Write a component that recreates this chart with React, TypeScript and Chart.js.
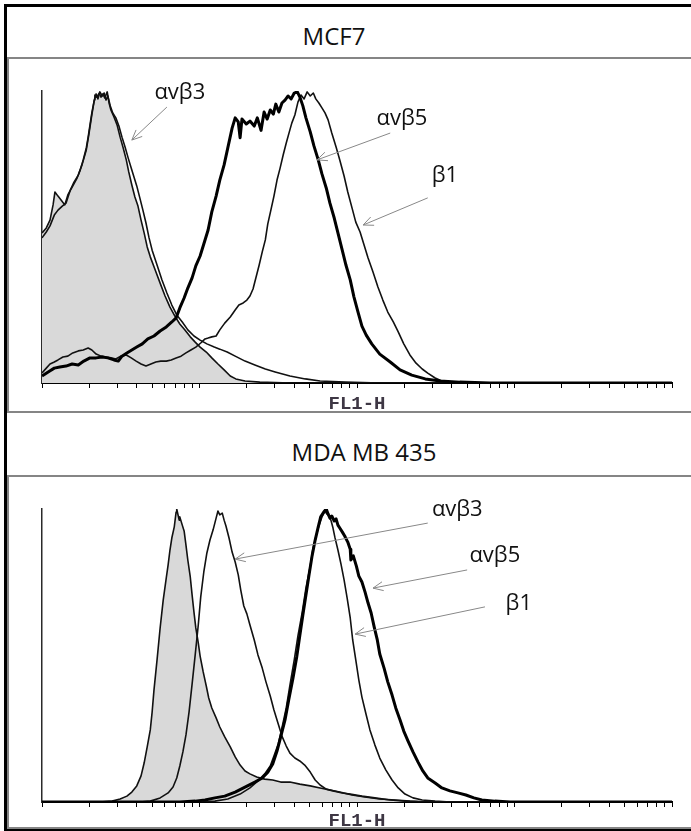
import React, { useEffect, useRef } from "react";
import { Chart, registerables } from "chart.js";

Chart.register(...registerables);

// FL1-H is recorded on 1024 channels spanning four log decades (10^0 .. 10^4)
const CHANNELS = 1024;
const DECADES = 4;
const COUNT_MAX = 100;
const fl1TickValues = [
  1, 2, 3, 4, 5, 6, 7, 8, 9,
  10, 20, 30, 40, 50, 60, 70, 80, 90,
  100, 200, 300, 400, 500, 600, 700, 800, 900,
  1000, 2000, 3000, 4000, 5000, 6000, 7000, 8000, 9000, 10000,
];
const toChannel = (v: number) => (CHANNELS * Math.log10(v)) / DECADES;

// ---- MCF7 histograms (channel, relative count) ----
const mcf7ControlCh = [0, 7, 13, 18, 21, 26, 31, 37, 42, 49, 57, 62, 67, 72, 75, 78, 81, 85, 86, 89, 93, 96, 99, 102, 106, 109, 112, 117, 122, 127, 132, 137, 141, 146, 151, 156, 161, 166, 171, 176, 184, 192, 200, 208, 216, 224, 232, 241, 249, 257, 267, 276, 286, 296, 306, 315, 330, 354, 403, 1024];
const mcf7ControlCount = [51.4, 53.1, 55.8, 61.0, 65.4, 64.0, 62.7, 61.0, 64.4, 67.1, 70.2, 72.9, 76.4, 80.5, 84.2, 88.4, 92.5, 96.9, 98.6, 97.9, 99.3, 97.9, 99.0, 97.6, 99.7, 95.9, 93.5, 91.1, 88.4, 84.2, 80.5, 76.4, 72.3, 67.8, 63.7, 60.6, 55.8, 51.4, 46.6, 43.2, 38.7, 34.2, 29.8, 26.0, 22.9, 20.2, 18.2, 15.8, 14.0, 12.3, 10.6, 8.6, 6.5, 4.5, 2.4, 1.4, 0.7, 0.3, 0, 0];

const mcf7AvB3Ch = [0, 7, 13, 20, 26, 33, 39, 46, 52, 59, 65, 72, 76, 81, 85, 88, 91, 94, 98, 101, 104, 107, 111, 115, 120, 125, 130, 135, 140, 145, 150, 154, 159, 164, 169, 174, 179, 187, 195, 203, 211, 219, 228, 237, 247, 257, 268, 280, 289, 301, 314, 330, 346, 363, 379, 403, 428, 452, 493, 549, 1024];
const mcf7AvB3Count = [49.7, 51.7, 53.8, 57.5, 59.2, 60.6, 61.6, 66.1, 68.8, 71.2, 74.7, 79.8, 84.9, 91.8, 96.9, 99.0, 97.3, 99.7, 98.3, 99.3, 96.9, 98.3, 94.9, 92.5, 90.8, 88.0, 84.2, 80.8, 77.1, 73.6, 70.2, 67.5, 63.4, 59.2, 54.8, 49.7, 45.5, 40.4, 35.3, 30.8, 26.7, 23.3, 20.9, 18.2, 16.1, 14.7, 13.4, 12.3, 11.6, 10.6, 9.2, 7.5, 6.2, 4.8, 3.8, 2.4, 1.4, 0.7, 0.3, 0, 0];

const mcf7AvB5Ch = [0, 10, 20, 29, 39, 49, 59, 68, 78, 88, 98, 107, 117, 124, 130, 138, 146, 154, 163, 172, 182, 192, 202, 211, 218, 224, 231, 237, 244, 250, 257, 263, 270, 276, 283, 289, 296, 302, 309, 314, 319, 322, 325, 332, 338, 345, 350, 356, 361, 366, 371, 376, 380, 385, 390, 395, 400, 405, 410, 415, 419, 424, 429, 436, 442, 449, 455, 462, 468, 475, 481, 488, 494, 501, 507, 514, 520, 527, 536, 549, 566, 582, 601, 623, 647, 679, 728, 1024];
const mcf7AvB5Count = [2.4, 3.8, 5.1, 5.5, 5.8, 6.5, 6.2, 7.5, 8.6, 8.6, 8.9, 8.6, 7.9, 7.5, 9.2, 10.3, 11.3, 12.3, 13.4, 15.1, 16.1, 17.8, 19.2, 20.9, 22.3, 25.7, 29.1, 32.5, 36.0, 40.1, 43.5, 47.6, 52.4, 58.6, 64.0, 69.5, 74.7, 80.5, 87.3, 90.8, 89.4, 84.0, 90.4, 88.7, 89.7, 88.0, 90.8, 86.5, 92.8, 90.4, 93.5, 92.1, 95.5, 92.8, 95.9, 96.9, 98.3, 97.3, 99.3, 99.7, 98.0, 94.9, 90.8, 86.0, 81.2, 76.4, 71.6, 66.8, 61.6, 56.5, 51.4, 45.5, 40.4, 35.3, 29.5, 24.0, 19.5, 16.4, 13.4, 9.9, 7.2, 4.5, 2.7, 1.4, 0.7, 0.3, 0, 0];

const mcf7B1Ch = [0, 7, 13, 20, 26, 34, 42, 50, 59, 67, 75, 81, 88, 96, 104, 112, 120, 128, 137, 145, 153, 161, 169, 177, 185, 193, 202, 210, 218, 226, 234, 242, 250, 258, 265, 270, 276, 283, 289, 297, 306, 314, 320, 327, 333, 338, 343, 348, 353, 358, 363, 367, 372, 377, 382, 387, 392, 397, 402, 406, 411, 416, 421, 426, 431, 436, 441, 445, 450, 455, 460, 465, 471, 478, 484, 491, 497, 504, 510, 517, 523, 530, 538, 546, 554, 562, 571, 579, 588, 598, 608, 618, 627, 639, 650, 671, 696, 1024];
const mcf7B1Count = [3.4, 5.1, 6.5, 7.2, 7.9, 8.9, 9.2, 10.3, 11.0, 11.3, 12.0, 11.3, 9.9, 9.2, 8.9, 8.6, 8.2, 9.2, 9.6, 8.6, 7.5, 6.5, 5.8, 6.5, 7.2, 7.5, 7.5, 7.9, 8.6, 9.2, 10.3, 11.3, 12.3, 13.7, 15.1, 15.4, 15.8, 16.1, 18.2, 20.5, 22.6, 25.0, 26.7, 27.4, 28.4, 29.8, 32.2, 36.3, 40.4, 44.9, 49.0, 54.5, 59.2, 64.0, 69.5, 73.6, 78.1, 82.2, 86.0, 89.0, 91.8, 96.2, 98.6, 97.3, 99.7, 98.3, 99.3, 97.3, 95.9, 94.2, 92.5, 90.1, 85.6, 80.8, 76.4, 70.9, 65.4, 59.9, 55.1, 51.7, 47.6, 42.8, 38.0, 32.9, 28.4, 24.3, 20.9, 17.5, 13.4, 9.6, 6.8, 4.8, 3.4, 1.7, 0.7, 0.3, 0, 0];

// ---- MDA MB 435 histograms ----
const mdaControlCh = [0, 94, 114, 127, 138, 146, 154, 161, 166, 171, 176, 179, 182, 187, 192, 197, 202, 205, 208, 211, 215, 218, 219, 223, 224, 228, 231, 234, 237, 241, 244, 247, 250, 254, 257, 262, 267, 271, 276, 283, 289, 297, 306, 314, 322, 330, 338, 349, 362, 375, 388, 403, 419, 436, 452, 468, 484, 504, 525, 549, 574, 598, 631, 1024];
const mdaControlCount = [0, 0, 0.3, 1.0, 2.0, 3.4, 5.5, 8.9, 13.3, 18.8, 24.6, 30.7, 38.2, 48.5, 59.4, 68.9, 76.5, 80.9, 86.0, 90.1, 93.9, 99.0, 100, 96.2, 97.3, 94.5, 92.5, 87.7, 82.6, 76.8, 70.6, 64.8, 59.4, 54.3, 49.8, 44.4, 39.6, 35.5, 32.1, 28.7, 25.6, 22.2, 18.8, 15.4, 12.6, 10.6, 9.6, 8.5, 7.8, 7.5, 6.8, 6.8, 6.1, 5.5, 4.8, 4.1, 3.4, 2.4, 1.7, 1.0, 0.7, 0.3, 0, 0];

const mdaAvB3Ch = [0, 159, 176, 192, 205, 213, 219, 224, 229, 234, 239, 244, 249, 254, 258, 263, 268, 273, 278, 283, 286, 289, 293, 296, 299, 304, 309, 314, 319, 323, 328, 333, 338, 345, 351, 358, 364, 371, 377, 384, 390, 397, 403, 411, 419, 427, 436, 444, 452, 462, 473, 488, 501, 520, 541, 566, 590, 623, 1024];
const mdaAvB3Count = [0, 0, 0.3, 1.4, 3.1, 5.1, 8.2, 12.3, 17.1, 22.9, 30.7, 40.3, 50.2, 60.4, 70.0, 78.5, 85.0, 89.4, 92.8, 96.9, 99.3, 98.0, 98.6, 96.2, 94.2, 90.1, 85.3, 81.9, 77.5, 72.4, 66.9, 64.2, 60.4, 55.3, 50.2, 45.7, 41.0, 36.2, 31.4, 26.6, 22.5, 19.1, 16.7, 15.0, 14.0, 12.6, 10.2, 7.5, 5.8, 4.4, 3.8, 3.1, 2.7, 2.0, 1.4, 0.7, 0.3, 0, 0];

const mdaAvB5Ch = [0, 224, 249, 265, 281, 297, 314, 330, 346, 358, 367, 375, 382, 388, 395, 401, 408, 414, 419, 424, 429, 434, 439, 444, 449, 453, 458, 462, 465, 468, 471, 475, 478, 481, 484, 488, 492, 497, 501, 502, 506, 511, 515, 520, 525, 530, 535, 540, 545, 549, 556, 562, 569, 575, 582, 588, 595, 603, 611, 619, 627, 639, 650, 663, 676, 689, 702, 715, 736, 761, 1024];
const mdaAvB5Count = [0, 0, 0.3, 0.7, 1.4, 2.0, 3.4, 5.1, 6.8, 8.2, 10.2, 13.0, 17.4, 22.2, 28.0, 34.8, 42.3, 49.5, 56.7, 63.8, 70.6, 77.5, 84.0, 89.4, 93.9, 97.3, 99.0, 100, 98.3, 96.9, 97.6, 95.9, 96.6, 94.5, 93.5, 92.2, 90.8, 88.7, 86.3, 82.6, 84.0, 80.5, 77.1, 75.1, 71.7, 67.9, 64.5, 59.7, 55.3, 50.5, 45.7, 41.0, 36.5, 32.1, 28.0, 24.2, 20.8, 17.1, 13.7, 10.6, 8.2, 6.5, 4.8, 3.8, 3.1, 2.4, 1.4, 0.7, 0.3, 0, 0];

const mdaB1Ch = [0, 257, 281, 302, 322, 338, 351, 362, 371, 377, 384, 390, 397, 403, 410, 416, 423, 429, 436, 440, 445, 450, 455, 460, 463, 467, 470, 473, 476, 481, 486, 491, 496, 501, 505, 510, 515, 520, 527, 533, 541, 549, 559, 569, 579, 590, 603, 618, 639, 663, 1024];
const mdaB1Count = [0, 0, 0.3, 1.0, 2.7, 4.8, 7.2, 9.6, 12.3, 15.7, 19.8, 25.3, 32.1, 39.9, 48.5, 56.7, 64.8, 73.0, 80.5, 86.0, 90.4, 94.2, 97.3, 99.3, 98.3, 97.6, 95.9, 93.5, 90.4, 86.0, 81.2, 75.8, 69.6, 62.8, 55.3, 48.5, 41.6, 35.8, 29.7, 24.6, 19.5, 15.0, 10.9, 7.5, 4.8, 2.7, 1.4, 0.7, 0.3, 0, 0];

type Series = {
  label: string;
  ch: number[];
  count: number[];
  width: number;
  color: string;
  fill?: string;
};

type Note = {
  text: string;
  at: [number, number];
  from: [number, number];
  to: [number, number];
};

const THIN = "#111111";
const THICK = "#000000";
const CONTROL_FILL = "#d9d9d9";

// Datasets listed top-most first: Chart.js paints index 0 last
const mcf7Series: Series[] = [
  { label: "αvβ5", ch: mcf7AvB5Ch, count: mcf7AvB5Count, width: 3, color: THICK },
  { label: "β1", ch: mcf7B1Ch, count: mcf7B1Count, width: 1.6, color: THIN },
  { label: "αvβ3", ch: mcf7AvB3Ch, count: mcf7AvB3Count, width: 1.6, color: THIN },
  { label: "control", ch: mcf7ControlCh, count: mcf7ControlCount, width: 1.6, color: THIN, fill: CONTROL_FILL },
];

const mdaSeries: Series[] = [
  { label: "αvβ5", ch: mdaAvB5Ch, count: mdaAvB5Count, width: 3, color: THICK },
  { label: "β1", ch: mdaB1Ch, count: mdaB1Count, width: 1.6, color: THIN },
  { label: "αvβ3", ch: mdaAvB3Ch, count: mdaAvB3Count, width: 1.6, color: THIN },
  { label: "control", ch: mdaControlCh, count: mdaControlCount, width: 1.6, color: THIN, fill: CONTROL_FILL },
];

// Callouts: label centre, arrow tail and arrow tip in (channel, count)
const mcf7Notes: Note[] = [
  { text: "αvβ3", at: [224, 99.3], from: [203, 94.5], to: [146, 83.2] },
  { text: "αvβ5", at: [585, 90.4], from: [566, 85.6], to: [447, 76.4] },
  { text: "β1", at: [655, 70.9], from: [627, 63.4], to: [522, 54.1] },
];

const mdaNotes: Note[] = [
  { text: "αvβ3", at: [675, 99.7], from: [627, 95.2], to: [314, 82.9] },
  { text: "αvβ5", at: [736, 84.0], from: [691, 79.2], to: [538, 73.0] },
  { text: "β1", at: [775, 67.6], from: [720, 66.6], to: [509, 57.3] },
];

const LABEL_FONT = "22px 'Open Sans', 'DejaVu Sans', sans-serif";

function notesPlugin(notes: Note[]) {
  return {
    id: "callouts",
    afterDatasetsDraw(chart: any) {
      const { ctx } = chart;
      const xs = chart.scales.x;
      const ys = chart.scales.y;
      ctx.save();
      ctx.strokeStyle = "#888888";
      ctx.lineWidth = 1;
      for (const n of notes) {
        const x0 = xs.getPixelForValue(n.from[0]);
        const y0 = ys.getPixelForValue(n.from[1]);
        const x1 = xs.getPixelForValue(n.to[0]);
        const y1 = ys.getPixelForValue(n.to[1]);
        ctx.beginPath();
        ctx.moveTo(x0, y0);
        ctx.lineTo(x1, y1);
        ctx.stroke();
        const ang = Math.atan2(y1 - y0, x1 - x0);
        const len = 11;
        const spread = 0.42;
        ctx.beginPath();
        ctx.moveTo(x1 - len * Math.cos(ang - spread), y1 - len * Math.sin(ang - spread));
        ctx.lineTo(x1, y1);
        ctx.lineTo(x1 - len * Math.cos(ang + spread), y1 - len * Math.sin(ang + spread));
        ctx.stroke();
        ctx.fillStyle = "#111";
        ctx.font = LABEL_FONT;
        ctx.textAlign = "center";
        ctx.textBaseline = "middle";
        ctx.fillText(n.text, xs.getPixelForValue(n.at[0]), ys.getPixelForValue(n.at[1]));
      }
      ctx.restore();
    },
  };
}

type PanelProps = {
  series: Series[];
  notes: Note[];
  left: number;
  top: number;
  width: number;
  height: number;
  pad: { left: number; right: number; top: number; bottom: number };
  titlePad: number;
};

function Histogram({ series, notes, left, top, width, height, pad, titlePad }: PanelProps) {
  const ref = useRef<HTMLCanvasElement | null>(null);

  useEffect(() => {
    if (!ref.current) return;
    const chart = new Chart(ref.current, {
      type: "line",
      data: {
        datasets: series.map((s) => ({
          label: s.label,
          data: s.ch.map((c, i) => ({ x: c, y: s.count[i] })),
          borderColor: s.color,
          borderWidth: s.width,
          backgroundColor: s.fill ?? "transparent",
          fill: s.fill ? "origin" : false,
          pointRadius: 0,
          tension: 0,
          borderJoinStyle: "round",
        })),
      },
      options: {
        responsive: false,
        animation: false,
        devicePixelRatio: 1,
        events: [],
        layout: { padding: pad },
        plugins: {
          legend: { display: false },
          tooltip: { enabled: false },
        },
        scales: {
          x: {
            type: "linear",
            min: 0,
            max: CHANNELS,
            afterBuildTicks: (scale: any) => {
              scale.ticks = fl1TickValues.map((v) => ({ value: toChannel(v) }));
            },
            grid: {
              display: true,
              drawOnChartArea: false,
              drawTicks: true,
              tickLength: 5,
              color: "#000",
              lineWidth: 1,
            },
            border: { display: true, color: "#000", width: 2 },
            ticks: { display: false },
            title: {
              display: true,
              text: "FL1-H",
              color: "#3e3744",
              font: {
                family: "'Liberation Mono', 'DejaVu Sans Mono', monospace",
                size: 19,
                weight: "bold",
                lineHeight: 1,
              },
              padding: { top: titlePad, bottom: 0 },
            },
          },
          y: {
            type: "linear",
            min: 0,
            max: COUNT_MAX,
            grid: { display: false, drawTicks: false },
            border: { display: true, color: "#2a2a2a", width: 1.5 },
            ticks: { display: false },
          },
        },
      } as any,
      plugins: [notesPlugin(notes)],
    });
    return () => chart.destroy();
  }, [series, notes, pad, titlePad]);

  return (
    <canvas
      ref={ref}
      width={width}
      height={height}
      style={{ position: "absolute", left, top, width, height }}
    />
  );
}

const titleStyle = (cx: number, cy: number): React.CSSProperties => ({
  position: "absolute",
  left: cx,
  top: cy,
  transform: "translate(-50%, -50%)",
  fontFamily: "'Open Sans', 'DejaVu Sans', sans-serif",
  fontSize: 24,
  lineHeight: 1,
  color: "#111",
  whiteSpace: "nowrap",
});

const PAD1 = { left: 32, right: 12, top: 31, bottom: 6 };
const PAD2 = { left: 32, right: 12, top: 31, bottom: 0 };

export default function App() {
  return (
    <div
      style={{
        position: "absolute",
        left: 0,
        top: 0,
        width: 691,
        height: 831,
        overflow: "hidden",
        background: "#fff",
      }}
    >
      <div
        style={{
          position: "absolute",
          left: 4,
          top: 4,
          width: 720,
          height: 827,
          boxSizing: "border-box",
          border: "3px solid #000",
        }}
      />
      <div
        style={{
          position: "absolute",
          left: 7,
          top: 57,
          width: 720,
          height: 356,
          boxSizing: "border-box",
          border: "2px solid #858585",
        }}
      />
      <div
        style={{
          position: "absolute",
          left: 7,
          top: 475,
          width: 720,
          height: 354,
          boxSizing: "border-box",
          border: "2px solid #858585",
        }}
      />
      <div style={titleStyle(334, 36)}>MCF7</div>
      <div style={titleStyle(364, 452)}>MDA MB 435</div>
      <Histogram series={mcf7Series} notes={mcf7Notes} left={10} top={60} width={674} height={360} pad={PAD1} titlePad={7} />
      <Histogram series={mdaSeries} notes={mdaNotes} left={10} top={478} width={674} height={353} pad={PAD2} titlePad={5} />
    </div>
  );
}
